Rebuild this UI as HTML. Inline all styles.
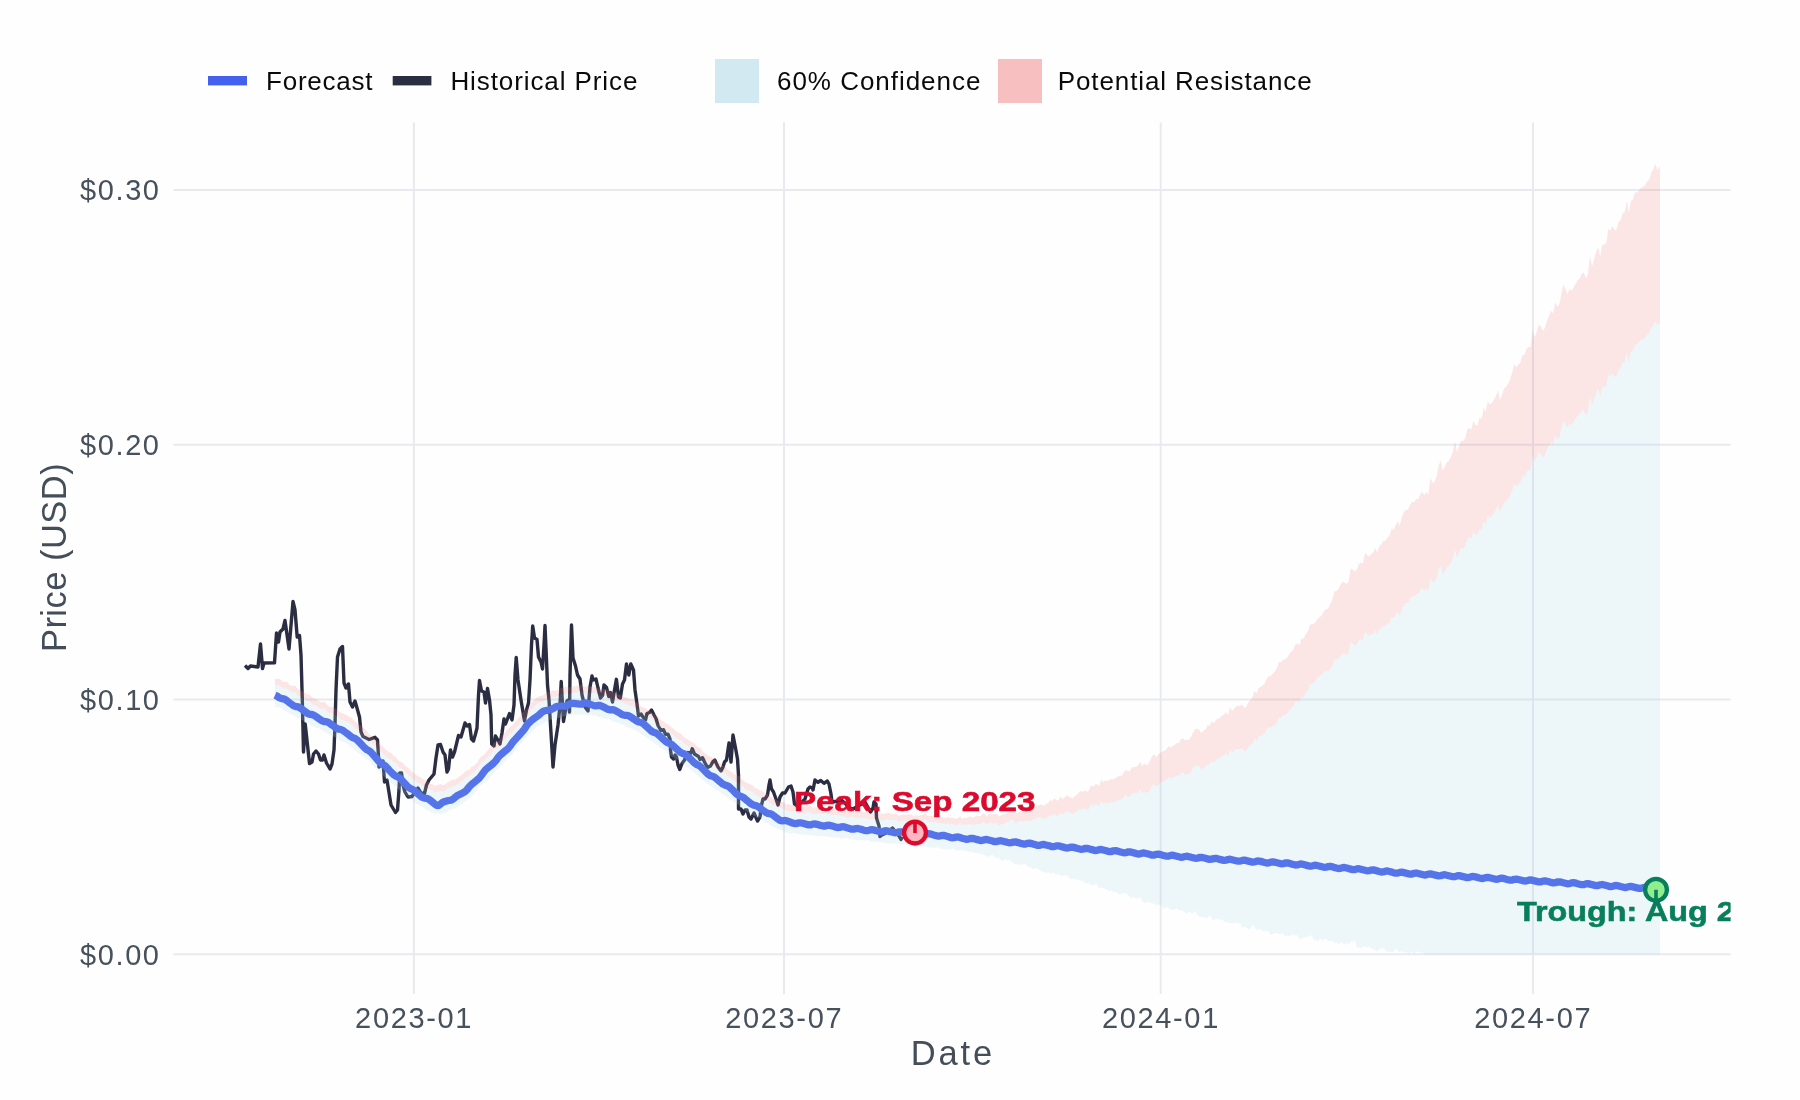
<!DOCTYPE html>
<html lang="en"><head><meta charset="utf-8"><title>Price forecast</title>
<style>
html,body{margin:0;padding:0;background:#fefefe;overflow:hidden}
svg{display:block;will-change:transform}
text{font-family:"Liberation Sans",sans-serif}
</style></head><body>
<svg width="1800" height="1100" viewBox="0 0 1800 1100">
<rect x="0" y="0" width="1800" height="1100" fill="#fefefe"/>
<g stroke="#e7eaee" stroke-width="2.0" fill="none"><line x1="173.4" x2="1730.6" y1="190.0" y2="190.0"/><line x1="173.4" x2="1730.6" y1="444.85" y2="444.85"/><line x1="173.4" x2="1730.6" y1="699.6" y2="699.6"/><line x1="173.4" x2="1730.6" y1="954.35" y2="954.35"/><line x1="413.9" x2="413.9" y1="122.5" y2="994.0"/><line x1="784.0" x2="784.0" y1="122.5" y2="994.0"/><line x1="1160.7" x2="1160.7" y1="122.5" y2="994.0"/><line x1="1533.0" x2="1533.0" y1="122.5" y2="994.0"/></g>
<defs><clipPath id="panel"><rect x="173.4" y="122.5" width="1557.1999999999998" height="871.5"/></clipPath></defs>
<g clip-path="url(#panel)">
<path d="M245.0 665.5 L248.0 668.5 L250.5 666.0 L258.0 667.0 L260.5 644.0 L262.5 668.5 L264.0 663.0 L274.5 662.8 L276.5 633.0 L278.5 642.0 L280.0 632.0 L283.0 629.0 L285.0 620.5 L289.0 649.0 L293.0 601.5 L295.0 610.0 L297.2 637.0 L299.5 635.5 L301.0 655.0 L302.3 700.0 L303.5 752.0 L305.2 724.0 L309.5 763.5 L312.0 762.0 L313.5 754.0 L316.0 751.0 L318.5 754.0 L320.5 760.0 L322.5 760.0 L324.0 755.0 L326.5 763.0 L330.0 769.0 L332.0 764.0 L334.0 750.0 L335.0 725.0 L336.0 690.0 L337.5 657.0 L340.0 649.0 L342.5 646.5 L344.0 683.0 L346.0 688.0 L348.5 684.0 L350.0 702.0 L352.5 707.0 L355.0 701.0 L357.0 708.0 L359.5 717.0 L361.0 732.0 L363.0 736.5 L369.0 739.5 L375.0 737.3 L377.5 740.0 L378.5 757.0 L379.0 767.0 L383.0 761.0 L384.5 782.0 L387.0 780.0 L391.0 805.0 L395.5 812.5 L397.5 810.0 L399.0 790.0 L399.7 773.0 L401.5 773.0 L403.0 785.0 L405.0 792.0 L408.0 797.0 L412.0 796.5 L415.0 792.0 L418.0 788.0 L421.0 793.0 L424.5 793.5 L426.5 785.0 L429.0 780.0 L434.0 774.0 L436.0 758.0 L438.0 745.0 L440.5 744.5 L443.0 752.0 L445.0 755.0 L447.0 772.0 L448.5 769.0 L450.5 750.0 L452.5 757.0 L454.5 752.0 L458.5 735.5 L461.0 737.0 L465.0 723.0 L467.0 726.0 L469.5 724.5 L471.5 739.0 L473.5 741.0 L475.5 734.0 L477.0 728.0 L478.5 695.0 L479.5 680.5 L481.5 691.0 L484.0 692.0 L485.5 703.0 L487.5 688.5 L489.5 700.0 L491.0 715.0 L491.7 744.0 L494.0 746.0 L495.5 736.0 L498.5 741.0 L500.0 744.0 L502.0 733.0 L504.0 719.0 L505.5 724.0 L509.5 713.5 L512.0 720.0 L514.0 705.0 L515.0 675.0 L516.2 657.5 L518.0 680.0 L521.0 700.0 L524.5 721.0 L526.5 710.0 L528.5 703.0 L530.0 680.0 L531.5 645.0 L532.7 626.0 L534.5 638.0 L537.0 639.5 L538.5 657.0 L541.0 662.0 L542.5 669.0 L544.0 645.0 L545.0 625.5 L546.5 660.0 L547.5 685.0 L549.0 700.0 L550.5 725.0 L552.0 750.0 L553.0 767.0 L555.0 745.0 L558.0 725.0 L560.0 705.0 L561.2 681.5 L562.5 705.0 L563.5 721.5 L565.5 710.0 L567.0 701.0 L568.5 700.0 L569.5 712.0 L570.0 675.0 L571.5 625.0 L573.0 658.0 L575.5 666.0 L577.5 675.0 L580.0 679.0 L582.0 695.0 L585.0 707.0 L588.0 711.0 L590.0 687.0 L592.0 676.0 L593.5 680.0 L596.0 679.0 L598.0 688.0 L600.5 698.0 L602.5 695.5 L604.0 685.0 L606.5 687.5 L608.8 696.5 L610.5 692.5 L612.5 702.0 L614.5 690.0 L616.4 679.3 L618.5 697.0 L620.3 698.0 L622.5 684.0 L624.5 680.0 L626.5 664.0 L628.8 675.0 L630.8 664.0 L633.5 670.0 L635.0 690.0 L637.0 704.0 L638.5 716.0 L641.0 714.0 L643.0 717.0 L645.5 720.0 L647.0 713.5 L649.5 712.5 L651.5 710.0 L654.0 715.0 L656.0 718.5 L658.0 725.5 L661.0 730.5 L663.5 729.7 L665.5 734.2 L668.0 734.2 L670.0 739.0 L670.5 750.0 L671.5 757.0 L673.5 759.0 L675.0 755.0 L676.5 757.0 L678.0 765.0 L679.8 769.5 L682.0 763.5 L684.5 760.0 L686.5 755.0 L688.0 752.5 L690.5 753.5 L692.2 748.8 L694.5 754.0 L698.5 756.5 L700.0 759.5 L702.5 757.7 L704.5 762.0 L707.5 767.5 L710.5 766.0 L713.0 761.5 L714.8 760.0 L718.0 767.0 L721.0 771.0 L723.0 767.0 L724.5 762.0 L726.5 760.0 L727.5 753.0 L729.0 743.0 L731.0 762.0 L733.0 735.0 L735.5 748.0 L737.5 759.0 L738.5 775.0 L738.5 809.0 L741.0 809.0 L743.0 814.0 L745.0 810.0 L747.0 810.0 L749.0 817.0 L751.0 819.0 L754.0 813.0 L757.5 821.0 L760.0 817.0 L761.5 805.0 L763.0 799.0 L765.0 799.0 L767.5 795.0 L769.0 785.0 L770.0 780.0 L771.5 789.0 L773.5 792.0 L776.0 799.0 L778.0 805.0 L780.0 797.0 L782.5 793.0 L785.0 793.0 L788.5 787.0 L791.0 786.0 L793.0 792.0 L794.5 804.0 L797.0 806.0 L801.0 803.0 L805.0 799.0 L808.0 789.0 L810.0 787.0 L812.3 788.0 L813.0 790.0 L815.0 780.0 L818.0 782.3 L820.7 780.5 L824.0 783.3 L827.3 781.0 L829.0 784.0 L831.0 794.0 L832.0 802.0 L842.0 800.5 L850.0 808.0 L853.0 809.0 L865.0 802.0 L870.5 812.0 L873.0 808.0 L874.0 802.0 L876.0 804.0 L876.5 818.0 L879.0 826.0 L880.0 836.5 L882.0 835.0 L886.0 833.0 L892.5 828.0 L899.0 836.0 L901.0 839.5 L902.5 837.0" fill="none" stroke="#2b2d42" stroke-width="3.4" stroke-linejoin="round" stroke-linecap="butt"/>
<path d="M275.0 684.9 L277.0 685.6 L279.1 685.0 L281.1 686.5 L283.2 688.3 L285.2 688.4 L287.3 688.4 L289.3 690.8 L291.4 692.1 L293.4 692.3 L295.5 692.5 L297.5 695.5 L299.5 696.5 L301.6 697.6 L303.6 698.6 L305.7 699.6 L307.7 701.2 L309.8 701.0 L311.8 703.7 L313.9 705.0 L315.9 705.2 L317.9 706.7 L320.0 708.0 L322.0 709.0 L324.1 708.2 L326.1 709.9 L328.2 712.3 L330.2 713.1 L332.3 713.3 L334.3 714.6 L336.4 715.7 L338.4 716.7 L340.4 719.0 L342.5 719.7 L344.5 720.7 L346.6 721.3 L348.6 722.7 L350.7 723.7 L352.7 725.3 L354.8 727.6 L356.8 729.4 L358.8 730.9 L360.9 731.5 L362.9 734.0 L365.0 735.8 L367.0 737.3 L369.1 740.4 L371.1 742.2 L373.2 744.0 L375.2 745.6 L377.3 747.9 L379.3 749.6 L381.3 751.4 L383.4 753.5 L385.4 756.0 L387.5 757.3 L389.5 759.0 L391.6 759.5 L393.6 762.4 L395.7 763.1 L397.7 766.1 L399.7 767.9 L401.8 768.6 L403.8 770.5 L405.9 772.8 L407.9 774.0 L410.0 776.4 L412.0 778.2 L414.1 779.8 L416.1 781.2 L418.2 782.6 L420.2 783.6 L422.2 785.0 L424.3 786.4 L426.3 787.4 L428.4 788.6 L430.4 790.0 L432.5 790.6 L434.5 792.2 L436.6 791.7 L438.6 791.3 L440.6 790.4 L442.7 791.5 L444.7 791.1 L446.8 789.5 L448.8 787.9 L450.9 787.0 L452.9 786.0 L455.0 785.8 L457.0 784.6 L459.1 783.2 L461.1 781.7 L463.1 780.2 L465.2 777.9 L467.2 776.7 L469.3 776.2 L471.3 773.5 L473.4 772.4 L475.4 770.7 L477.5 768.5 L479.5 764.6 L481.5 762.9 L483.6 761.6 L485.6 759.2 L487.7 757.0 L489.7 754.4 L491.8 753.0 L493.8 749.5 L495.9 748.5 L497.9 747.4 L500.0 746.0 L502.0 741.6 L504.0 740.7 L506.1 737.6 L508.1 735.8 L510.2 733.3 L512.2 732.2 L514.3 729.5 L516.3 727.2 L518.4 724.7 L520.4 722.1 L522.4 719.2 L524.5 717.1 L526.5 715.9 L528.6 713.7 L530.6 710.4 L532.7 707.9 L534.7 706.2 L536.8 703.9 L538.8 702.9 L540.9 702.3 L542.9 702.0 L544.9 700.1 L547.0 699.4 L549.0 697.9 L551.1 697.4 L553.1 696.7 L555.2 697.2 L557.2 696.1 L559.3 695.7 L561.3 693.8 L563.3 694.6 L565.4 693.4 L567.4 693.2 L569.5 693.9 L571.5 693.2 L573.6 692.9 L575.6 692.6 L577.7 691.6 L579.7 691.5 L581.8 691.1 L583.8 692.7 L585.8 693.4 L587.9 692.5 L589.9 692.9 L592.0 692.7 L594.0 693.1 L596.1 693.5 L598.1 694.6 L600.2 695.4 L602.2 695.3 L604.2 695.4 L606.3 696.5 L608.3 696.0 L610.4 697.7 L612.4 698.8 L614.5 699.4 L616.5 700.2 L618.6 701.1 L620.6 701.5 L622.6 702.6 L624.7 703.4 L626.7 704.0 L628.8 705.0 L630.8 705.9 L632.9 705.7 L634.9 707.7 L637.0 708.7 L639.0 710.2 L641.1 713.1 L643.1 713.7 L645.1 714.5 L647.2 715.6 L649.2 717.0 L651.3 718.7 L653.3 719.9 L655.4 722.0 L657.4 723.0 L659.5 725.0 L661.5 727.0 L663.5 727.6 L665.6 729.8 L667.6 730.5 L669.7 732.1 L671.7 733.8 L673.8 735.3 L675.8 737.4 L677.9 738.8 L679.9 739.4 L682.0 741.1 L684.0 743.5 L686.0 744.7 L688.1 746.0 L690.1 747.4 L692.2 749.0 L694.2 749.7 L696.3 751.8 L698.3 754.0 L700.4 754.2 L702.4 757.5 L704.4 759.5 L706.5 760.6 L708.5 762.3 L710.6 762.9 L712.6 765.0 L714.7 765.0 L716.7 768.4 L718.8 769.3 L720.8 769.8 L722.9 771.8 L724.9 772.8 L726.9 775.3 L729.0 776.8 L731.0 777.8 L733.1 779.6 L735.1 781.2 L737.2 782.1 L739.2 782.2 L741.3 785.5 L743.3 786.6 L745.3 789.0 L747.4 789.5 L749.4 790.4 L751.5 791.5 L753.5 792.4 L755.6 794.9 L757.6 794.9 L759.7 796.8 L761.7 796.9 L763.8 798.8 L765.8 799.7 L767.8 800.8 L769.9 802.8 L771.9 803.9 L774.0 804.9 L776.0 805.8 L778.1 807.3 L780.1 807.8 L782.2 808.4 L784.2 808.7 L786.2 811.1 L788.3 810.4 L790.3 811.5 L792.4 811.3 L794.4 811.1 L796.5 811.3 L798.5 812.7 L800.6 812.9 L802.6 813.1 L804.7 812.9 L806.7 812.2 L808.7 812.2 L810.8 812.3 L812.8 813.8 L814.9 813.5 L816.9 813.7 L819.0 813.6 L821.0 814.0 L823.1 813.6 L825.1 813.0 L827.1 814.5 L829.2 814.8 L831.2 814.9 L833.3 815.0 L835.3 815.0 L837.4 814.8 L839.4 815.2 L841.5 816.2 L843.5 816.1 L845.6 816.8 L847.6 817.7 L849.6 817.1 L851.7 816.8 L853.7 816.9 L855.8 817.8 L857.8 818.3 L859.9 817.6 L861.9 818.3 L864.0 818.5 L866.0 818.1 L868.0 818.6 L870.1 819.3 L872.1 819.0 L874.2 819.5 L876.2 818.8 L878.3 819.1 L880.3 820.0 L882.4 819.9 L884.4 820.6 L886.5 819.0 L888.5 819.4 L890.5 819.6 L892.6 820.1 L894.6 820.0 L896.7 819.6 L898.7 822.0 L900.8 821.1 L902.8 820.8 L904.9 820.6 L906.9 820.9 L908.9 820.6 L911.0 820.4 L913.0 821.8 L915.1 821.6 L917.1 821.5 L919.2 822.1 L921.2 821.2 L923.3 820.8 L925.3 819.1 L927.4 821.8 L929.4 821.8 L931.4 822.1 L933.5 822.2 L935.5 822.0 L937.6 822.9 L939.6 822.4 L941.7 823.6 L943.7 823.4 L945.8 823.9 L947.8 823.0 L949.8 824.0 L951.9 823.9 L953.9 824.5 L956.0 825.0 L958.0 824.9 L960.1 822.7 L962.1 825.5 L964.2 824.4 L966.2 824.8 L968.3 823.9 L970.3 823.7 L972.3 824.9 L974.4 824.5 L976.4 823.9 L978.5 823.7 L980.5 824.5 L982.6 822.0 L984.6 822.3 L986.7 825.0 L988.7 823.1 L990.7 822.3 L992.8 823.2 L994.8 823.4 L996.9 823.2 L998.9 825.6 L1001.0 824.4 L1003.0 823.7 L1005.1 823.5 L1007.1 822.1 L1009.2 820.9 L1011.2 819.2 L1013.2 819.7 L1015.3 822.8 L1017.3 822.6 L1019.4 821.0 L1021.4 821.2 L1023.5 821.8 L1025.5 820.4 L1027.6 821.3 L1029.6 820.7 L1031.6 820.3 L1033.7 819.0 L1035.7 818.5 L1037.8 817.5 L1039.8 817.5 L1041.9 817.5 L1043.9 819.3 L1046.0 817.4 L1048.0 817.4 L1050.1 815.0 L1052.1 815.8 L1054.1 813.5 L1056.2 815.4 L1058.2 816.3 L1060.3 812.4 L1062.3 814.6 L1064.4 813.6 L1066.4 811.0 L1068.5 812.1 L1070.5 812.8 L1072.5 814.2 L1074.6 812.4 L1076.6 811.5 L1078.7 809.6 L1080.7 808.4 L1082.8 809.4 L1084.8 807.7 L1086.9 809.9 L1088.9 808.8 L1091.0 804.0 L1093.0 806.0 L1095.0 804.1 L1097.1 804.3 L1099.1 806.6 L1101.2 800.7 L1103.2 803.5 L1105.3 802.6 L1107.3 803.5 L1109.4 802.6 L1111.4 802.2 L1113.4 802.6 L1115.5 801.3 L1117.5 800.3 L1119.6 799.4 L1121.6 799.7 L1123.7 797.1 L1125.7 794.8 L1127.8 796.4 L1129.8 796.7 L1131.9 793.8 L1133.9 793.2 L1135.9 793.4 L1138.0 792.2 L1140.0 788.9 L1142.1 793.1 L1144.1 791.0 L1146.2 792.7 L1148.2 792.5 L1150.3 788.5 L1152.3 785.3 L1154.3 784.2 L1156.4 786.4 L1158.4 784.4 L1160.5 782.8 L1162.5 781.4 L1164.6 781.2 L1166.6 779.4 L1168.7 777.0 L1170.7 778.6 L1172.8 777.7 L1174.8 776.9 L1176.8 775.5 L1178.9 775.9 L1180.9 772.7 L1183.0 772.5 L1185.0 774.2 L1187.1 773.9 L1189.1 774.5 L1191.2 771.4 L1193.2 768.1 L1195.2 765.4 L1197.3 765.5 L1199.3 766.2 L1201.4 769.9 L1203.4 767.8 L1205.5 767.1 L1207.5 763.9 L1209.6 764.3 L1211.6 760.6 L1213.7 762.6 L1215.7 760.0 L1217.7 758.7 L1219.8 758.3 L1221.8 756.0 L1223.9 755.8 L1225.9 753.0 L1228.0 756.2 L1230.0 749.1 L1232.1 753.1 L1234.1 750.9 L1236.1 749.0 L1238.2 749.1 L1240.2 748.9 L1242.3 747.8 L1244.3 751.4 L1246.4 749.9 L1248.4 746.7 L1250.5 745.4 L1252.5 743.4 L1254.6 738.2 L1256.6 740.9 L1258.6 736.8 L1260.7 735.7 L1262.7 734.9 L1264.8 733.4 L1266.8 729.0 L1268.9 727.0 L1270.9 727.7 L1273.0 725.8 L1275.0 724.7 L1277.1 722.2 L1279.1 716.8 L1281.1 717.7 L1283.2 715.0 L1285.2 715.1 L1287.3 713.2 L1289.3 709.9 L1291.4 707.7 L1293.4 706.1 L1295.5 701.4 L1297.5 700.7 L1299.5 702.2 L1301.6 696.6 L1303.6 697.2 L1305.7 693.1 L1307.7 690.5 L1309.8 684.6 L1311.8 683.4 L1313.9 682.8 L1315.9 680.4 L1318.0 677.1 L1320.0 675.9 L1322.0 674.2 L1324.1 671.5 L1326.1 670.5 L1328.2 671.8 L1330.2 668.5 L1332.3 666.6 L1334.3 660.0 L1336.4 660.1 L1338.4 658.9 L1340.4 655.6 L1342.5 653.0 L1344.5 653.3 L1346.6 654.7 L1348.6 652.8 L1350.7 641.8 L1352.7 643.4 L1354.8 645.4 L1356.8 644.3 L1358.9 639.7 L1360.9 639.3 L1362.9 640.4 L1365.0 631.6 L1367.0 634.0 L1369.1 635.8 L1371.1 634.5 L1373.2 633.4 L1375.2 630.0 L1377.3 634.5 L1379.3 629.2 L1381.3 628.4 L1383.4 625.5 L1385.4 626.0 L1387.5 623.5 L1389.5 622.7 L1391.6 616.3 L1393.6 618.3 L1395.7 614.3 L1397.7 611.6 L1399.8 615.4 L1401.8 609.0 L1403.8 605.0 L1405.9 602.8 L1407.9 603.0 L1410.0 598.9 L1412.0 596.3 L1414.1 596.4 L1416.1 594.0 L1418.2 593.8 L1420.2 589.8 L1422.2 587.6 L1424.3 590.9 L1426.3 588.0 L1428.4 590.9 L1430.4 577.2 L1432.5 582.1 L1434.5 582.0 L1436.6 578.3 L1438.6 569.7 L1440.7 565.4 L1442.7 574.1 L1444.7 571.4 L1446.8 567.5 L1448.8 565.8 L1450.9 562.5 L1452.9 557.9 L1455.0 549.0 L1457.0 557.6 L1459.1 552.9 L1461.1 548.0 L1463.1 548.6 L1465.2 546.2 L1467.2 538.8 L1469.3 537.2 L1471.3 538.8 L1473.4 531.4 L1475.4 534.7 L1477.5 535.2 L1479.5 528.4 L1481.6 530.1 L1483.6 521.0 L1485.6 524.4 L1487.7 515.4 L1489.7 517.7 L1491.8 516.2 L1493.8 513.2 L1495.9 509.5 L1497.9 504.5 L1500.0 512.0 L1502.0 507.8 L1504.0 502.6 L1506.1 501.5 L1508.1 498.8 L1510.2 495.6 L1512.2 490.3 L1514.3 483.3 L1516.3 486.4 L1518.4 484.0 L1520.4 482.6 L1522.5 476.3 L1524.5 476.6 L1526.5 471.5 L1528.6 470.0 L1530.6 470.0 L1532.7 455.5 L1534.7 462.3 L1536.8 457.1 L1538.8 451.5 L1540.9 453.4 L1542.9 457.4 L1544.9 455.2 L1547.0 449.7 L1549.0 445.6 L1551.1 441.9 L1553.1 444.6 L1555.2 435.7 L1557.2 439.3 L1559.3 437.6 L1561.3 429.1 L1563.4 420.4 L1565.4 424.1 L1567.4 428.0 L1569.5 423.1 L1571.5 424.7 L1573.6 421.4 L1575.6 418.5 L1577.7 415.6 L1579.7 414.3 L1581.8 410.5 L1583.8 410.0 L1585.8 414.9 L1587.9 412.1 L1589.9 396.3 L1592.0 405.0 L1594.0 399.2 L1596.1 392.6 L1598.1 388.5 L1600.2 396.1 L1602.2 386.9 L1604.3 386.3 L1606.3 386.2 L1608.3 374.3 L1610.4 376.2 L1612.4 373.2 L1614.5 376.7 L1616.5 376.2 L1618.6 369.8 L1620.6 368.3 L1622.7 362.4 L1624.7 361.6 L1626.7 351.8 L1628.8 361.9 L1630.8 351.5 L1632.9 350.2 L1634.9 344.4 L1637.0 344.0 L1639.0 342.3 L1641.1 339.7 L1643.1 339.2 L1645.2 337.5 L1647.2 334.4 L1649.2 333.3 L1651.3 327.4 L1653.3 325.2 L1655.4 320.7 L1657.4 326.0 L1659.5 323.2 L1660.0 323.0 L1660.0 954.4 L1659.5 954.4 L1657.4 954.4 L1655.4 954.4 L1653.3 954.4 L1651.3 954.4 L1649.2 954.4 L1647.2 954.4 L1645.2 954.4 L1643.1 954.4 L1641.1 954.4 L1639.0 954.4 L1637.0 954.4 L1634.9 954.4 L1632.9 954.4 L1630.8 954.4 L1628.8 954.4 L1626.7 954.4 L1624.7 954.4 L1622.7 954.4 L1620.6 954.4 L1618.6 954.4 L1616.5 954.4 L1614.5 954.4 L1612.4 954.4 L1610.4 954.4 L1608.3 954.4 L1606.3 954.4 L1604.3 954.4 L1602.2 954.4 L1600.2 954.4 L1598.1 954.4 L1596.1 954.4 L1594.0 954.4 L1592.0 954.4 L1589.9 954.4 L1587.9 954.4 L1585.8 954.4 L1583.8 954.4 L1581.8 954.4 L1579.7 954.4 L1577.7 954.4 L1575.6 954.4 L1573.6 954.4 L1571.5 954.4 L1569.5 954.4 L1567.4 954.4 L1565.4 954.4 L1563.4 954.4 L1561.3 954.4 L1559.3 954.4 L1557.2 954.4 L1555.2 954.4 L1553.1 954.4 L1551.1 954.4 L1549.0 954.4 L1547.0 954.4 L1544.9 954.4 L1542.9 954.4 L1540.9 954.4 L1538.8 954.4 L1536.8 954.4 L1534.7 954.4 L1532.7 954.4 L1530.6 954.4 L1528.6 954.4 L1526.5 954.4 L1524.5 954.4 L1522.5 954.4 L1520.4 954.4 L1518.4 954.4 L1516.3 954.4 L1514.3 954.4 L1512.2 954.4 L1510.2 954.4 L1508.1 954.4 L1506.1 954.4 L1504.0 954.4 L1502.0 954.4 L1500.0 954.4 L1497.9 954.4 L1495.9 954.4 L1493.8 954.4 L1491.8 954.4 L1489.7 954.4 L1487.7 954.4 L1485.6 954.4 L1483.6 954.4 L1481.6 954.4 L1479.5 954.4 L1477.5 954.4 L1475.4 954.4 L1473.4 954.4 L1471.3 954.4 L1469.3 954.4 L1467.2 954.4 L1465.2 954.4 L1463.1 954.4 L1461.1 954.4 L1459.1 954.4 L1457.0 954.4 L1455.0 954.4 L1452.9 954.4 L1450.9 954.4 L1448.8 954.4 L1446.8 954.4 L1444.7 954.4 L1442.7 954.4 L1440.7 954.4 L1438.6 954.4 L1436.6 954.4 L1434.5 954.4 L1432.5 954.4 L1430.4 954.4 L1428.4 954.4 L1426.3 954.4 L1424.3 954.4 L1422.2 952.1 L1420.2 952.8 L1418.2 952.1 L1416.1 951.1 L1414.1 954.4 L1412.0 951.4 L1410.0 953.5 L1407.9 953.3 L1405.9 952.0 L1403.8 952.9 L1401.8 950.6 L1399.8 953.1 L1397.7 950.2 L1395.7 948.6 L1393.6 952.0 L1391.6 952.0 L1389.5 951.6 L1387.5 951.9 L1385.4 949.9 L1383.4 948.0 L1381.3 948.2 L1379.3 949.0 L1377.3 950.9 L1375.2 950.3 L1373.2 949.0 L1371.1 948.4 L1369.1 946.3 L1367.0 947.8 L1365.0 945.9 L1362.9 947.3 L1360.9 948.3 L1358.9 947.3 L1356.8 947.4 L1354.8 939.9 L1352.7 942.4 L1350.7 940.9 L1348.6 944.5 L1346.6 942.5 L1344.5 944.9 L1342.5 943.3 L1340.4 942.3 L1338.4 944.2 L1336.4 942.6 L1334.3 942.7 L1332.3 940.9 L1330.2 941.1 L1328.2 941.2 L1326.1 938.3 L1324.1 939.4 L1322.0 940.2 L1320.0 939.1 L1318.0 941.2 L1315.9 939.9 L1313.9 940.2 L1311.8 935.6 L1309.8 935.4 L1307.7 937.6 L1305.7 937.0 L1303.6 937.8 L1301.6 938.5 L1299.5 939.3 L1297.5 934.9 L1295.5 935.6 L1293.4 934.7 L1291.4 935.1 L1289.3 936.0 L1287.3 935.4 L1285.2 936.7 L1283.2 933.0 L1281.1 934.0 L1279.1 933.8 L1277.1 933.5 L1275.0 933.1 L1273.0 933.9 L1270.9 935.0 L1268.9 932.0 L1266.8 930.4 L1264.8 931.2 L1262.7 931.2 L1260.7 929.1 L1258.6 929.4 L1256.6 929.9 L1254.6 927.0 L1252.5 924.7 L1250.5 929.0 L1248.4 928.8 L1246.4 927.5 L1244.3 926.7 L1242.3 928.0 L1240.2 923.0 L1238.2 922.9 L1236.1 922.3 L1234.1 923.4 L1232.1 923.0 L1230.0 923.3 L1228.0 922.5 L1225.9 922.1 L1223.9 921.6 L1221.8 919.0 L1219.8 920.2 L1217.7 919.0 L1215.7 918.6 L1213.7 920.5 L1211.6 918.5 L1209.6 915.2 L1207.5 917.1 L1205.5 918.3 L1203.4 916.7 L1201.4 916.7 L1199.3 916.6 L1197.3 914.7 L1195.2 910.8 L1193.2 913.3 L1191.2 913.1 L1189.1 911.3 L1187.1 913.2 L1185.0 913.3 L1183.0 910.2 L1180.9 910.3 L1178.9 910.2 L1176.8 908.3 L1174.8 909.5 L1172.8 909.5 L1170.7 909.9 L1168.7 907.7 L1166.6 906.7 L1164.6 908.5 L1162.5 907.0 L1160.5 904.1 L1158.4 904.6 L1156.4 904.9 L1154.3 903.9 L1152.3 903.0 L1150.3 902.5 L1148.2 901.7 L1146.2 902.6 L1144.1 903.2 L1142.1 900.8 L1140.0 897.3 L1138.0 898.6 L1135.9 898.4 L1133.9 896.8 L1131.9 898.4 L1129.8 896.7 L1127.8 894.5 L1125.7 893.2 L1123.7 893.1 L1121.6 893.8 L1119.6 894.5 L1117.5 892.7 L1115.5 892.1 L1113.4 892.3 L1111.4 889.8 L1109.4 891.6 L1107.3 889.5 L1105.3 889.1 L1103.2 887.8 L1101.2 887.5 L1099.1 888.5 L1097.1 884.4 L1095.0 883.7 L1093.0 885.4 L1091.0 885.1 L1088.9 883.3 L1086.9 883.3 L1084.8 883.5 L1082.8 880.7 L1080.7 880.3 L1078.7 880.2 L1076.6 879.4 L1074.6 878.9 L1072.5 879.1 L1070.5 879.0 L1068.5 877.2 L1066.4 874.9 L1064.4 874.9 L1062.3 876.3 L1060.3 875.6 L1058.2 873.7 L1056.2 874.7 L1054.1 872.2 L1052.1 873.3 L1050.1 873.3 L1048.0 872.3 L1046.0 872.8 L1043.9 872.0 L1041.9 871.6 L1039.8 870.1 L1037.8 868.6 L1035.7 868.1 L1033.7 868.7 L1031.6 868.3 L1029.6 866.9 L1027.6 866.4 L1025.5 864.1 L1023.5 863.8 L1021.4 864.9 L1019.4 864.4 L1017.3 864.5 L1015.3 864.5 L1013.2 862.7 L1011.2 861.5 L1009.2 859.6 L1007.1 860.8 L1005.1 858.5 L1003.0 861.0 L1001.0 860.2 L998.9 857.7 L996.9 857.4 L994.8 857.4 L992.8 855.1 L990.7 854.9 L988.7 856.7 L986.7 856.5 L984.6 855.3 L982.6 854.3 L980.5 853.6 L978.5 853.3 L976.4 853.3 L974.4 853.1 L972.3 851.4 L970.3 852.6 L968.3 851.2 L966.2 850.7 L964.2 850.8 L962.1 850.6 L960.1 850.3 L958.0 850.5 L956.0 850.3 L953.9 848.8 L951.9 848.5 L949.8 849.7 L947.8 849.0 L945.8 848.9 L943.7 849.0 L941.7 849.1 L939.6 847.4 L937.6 847.4 L935.5 847.4 L933.5 848.0 L931.4 847.3 L929.4 847.5 L927.4 847.3 L925.3 846.5 L923.3 845.9 L921.2 845.9 L919.2 845.7 L917.1 845.5 L915.1 845.8 L913.0 845.3 L911.0 845.0 L908.9 844.4 L906.9 844.3 L904.9 844.6 L902.8 844.4 L900.8 844.6 L898.7 844.3 L896.7 843.5 L894.6 843.3 L892.6 843.8 L890.5 843.3 L888.5 843.3 L886.5 843.4 L884.4 843.2 L882.4 842.1 L880.3 842.2 L878.3 842.0 L876.2 842.2 L874.2 841.5 L872.1 841.8 L870.1 841.4 L868.0 839.7 L866.0 840.4 L864.0 840.8 L861.9 840.0 L859.9 840.3 L857.8 840.3 L855.8 840.6 L853.7 839.6 L851.7 839.6 L849.6 839.2 L847.6 837.9 L845.6 837.8 L843.5 838.7 L841.5 838.8 L839.4 837.8 L837.4 837.3 L835.3 837.3 L833.3 837.5 L831.2 837.0 L829.2 836.9 L827.1 836.6 L825.1 836.0 L823.1 836.0 L821.0 836.2 L819.0 836.4 L816.9 835.8 L814.9 835.4 L812.8 835.6 L810.8 835.2 L808.7 835.0 L806.7 835.0 L804.7 834.5 L802.6 834.9 L800.6 834.3 L798.5 834.2 L796.5 834.1 L794.4 832.5 L792.4 833.5 L790.3 833.7 L788.3 833.0 L786.2 832.4 L784.2 831.9 L782.2 830.0 L780.1 829.8 L778.1 829.2 L776.0 827.8 L774.0 826.9 L771.9 825.9 L769.9 824.6 L767.8 823.1 L765.8 822.7 L763.8 821.1 L761.7 819.7 L759.7 817.4 L757.6 817.9 L755.6 816.8 L753.5 815.3 L751.5 813.9 L749.4 812.6 L747.4 812.0 L745.3 810.5 L743.3 809.4 L741.3 807.7 L739.2 805.8 L737.2 804.1 L735.1 803.1 L733.1 801.3 L731.0 800.1 L729.0 798.6 L726.9 797.1 L724.9 795.2 L722.9 794.2 L720.8 792.5 L718.8 790.9 L716.7 790.3 L714.7 789.0 L712.6 787.6 L710.6 785.7 L708.5 784.5 L706.5 783.1 L704.4 781.5 L702.4 779.8 L700.4 778.0 L698.3 776.5 L696.3 774.0 L694.2 772.5 L692.2 771.1 L690.1 769.6 L688.1 767.5 L686.0 766.5 L684.0 765.1 L682.0 763.1 L679.9 761.6 L677.9 759.3 L675.8 759.1 L673.8 757.6 L671.7 756.4 L669.7 755.0 L667.6 753.1 L665.6 751.0 L663.5 749.8 L661.5 748.1 L659.5 747.2 L657.4 745.3 L655.4 744.8 L653.3 742.3 L651.3 740.7 L649.2 738.6 L647.2 738.4 L645.1 736.7 L643.1 735.1 L641.1 734.5 L639.0 731.7 L637.0 731.0 L634.9 730.3 L632.9 729.3 L630.8 728.2 L628.8 727.4 L626.7 726.9 L624.7 725.2 L622.6 724.3 L620.6 723.4 L618.6 723.2 L616.5 722.5 L614.5 721.8 L612.4 721.1 L610.4 719.6 L608.3 719.0 L606.3 719.0 L604.2 718.4 L602.2 717.7 L600.2 717.1 L598.1 716.9 L596.1 715.4 L594.0 715.5 L592.0 715.3 L589.9 715.3 L587.9 715.2 L585.8 715.1 L583.8 714.8 L581.8 714.4 L579.7 714.6 L577.7 714.7 L575.6 714.7 L573.6 714.6 L571.5 715.3 L569.5 715.2 L567.4 715.4 L565.4 716.3 L563.3 716.6 L561.3 716.4 L559.3 717.7 L557.2 718.4 L555.2 718.7 L553.1 718.7 L551.1 719.5 L549.0 719.8 L547.0 721.3 L544.9 722.2 L542.9 723.4 L540.9 724.5 L538.8 725.6 L536.8 726.5 L534.7 728.7 L532.7 730.7 L530.6 732.4 L528.6 734.6 L526.5 737.3 L524.5 739.0 L522.4 741.9 L520.4 744.1 L518.4 745.8 L516.3 749.4 L514.3 751.6 L512.2 754.4 L510.2 755.9 L508.1 757.7 L506.1 759.8 L504.0 762.1 L502.0 764.4 L500.0 767.0 L497.9 768.9 L495.9 770.8 L493.8 773.1 L491.8 774.9 L489.7 777.4 L487.7 779.6 L485.6 781.5 L483.6 783.0 L481.5 785.0 L479.5 786.3 L477.5 789.6 L475.4 792.3 L473.4 794.2 L471.3 796.2 L469.3 798.5 L467.2 799.7 L465.2 801.0 L463.1 802.9 L461.1 804.6 L459.1 805.5 L457.0 806.8 L455.0 808.3 L452.9 808.9 L450.9 810.1 L448.8 809.9 L446.8 812.2 L444.7 813.0 L442.7 813.6 L440.6 814.4 L438.6 813.3 L436.6 813.7 L434.5 813.8 L432.5 813.0 L430.4 811.8 L428.4 810.5 L426.3 809.9 L424.3 808.0 L422.2 806.7 L420.2 805.6 L418.2 804.4 L416.1 803.7 L414.1 801.9 L412.0 800.7 L410.0 798.0 L407.9 796.5 L405.9 794.8 L403.8 793.4 L401.8 791.4 L399.7 790.4 L397.7 789.0 L395.7 786.4 L393.6 784.7 L391.6 782.8 L389.5 781.4 L387.5 779.9 L385.4 777.9 L383.4 776.1 L381.3 773.2 L379.3 771.9 L377.3 770.2 L375.2 768.2 L373.2 766.0 L371.1 764.0 L369.1 760.8 L367.0 759.1 L365.0 757.0 L362.9 756.5 L360.9 754.9 L358.8 753.2 L356.8 751.6 L354.8 749.9 L352.7 747.9 L350.7 746.7 L348.6 744.7 L346.6 743.5 L344.5 742.5 L342.5 741.5 L340.4 741.0 L338.4 738.9 L336.4 737.9 L334.3 736.8 L332.3 736.2 L330.2 735.2 L328.2 734.0 L326.1 732.5 L324.1 731.0 L322.0 730.5 L320.0 729.1 L317.9 728.0 L315.9 727.9 L313.9 726.6 L311.8 726.2 L309.8 724.1 L307.7 722.9 L305.7 721.7 L303.6 720.7 L301.6 719.8 L299.5 718.3 L297.5 718.1 L295.5 716.4 L293.4 715.1 L291.4 714.2 L289.3 712.9 L287.3 712.1 L285.2 710.9 L283.2 709.8 L281.1 707.8 L279.1 707.6 L277.0 707.1 L275.0 707.4 Z" fill="#add8e6" fill-opacity="0.21" stroke="none"/>
<path d="M275.0 678.5 L277.0 679.3 L279.1 678.5 L281.1 680.1 L283.2 681.9 L285.2 682.0 L287.3 681.8 L289.3 684.4 L291.4 685.7 L293.4 685.8 L295.5 685.9 L297.5 689.1 L299.5 690.1 L301.6 691.2 L303.6 692.2 L305.7 693.2 L307.7 694.8 L309.8 694.5 L311.8 697.3 L313.9 698.6 L315.9 698.8 L317.9 700.3 L320.0 701.7 L322.0 702.6 L324.1 701.7 L326.1 703.5 L328.2 706.0 L330.2 706.7 L332.3 706.9 L334.3 708.1 L336.4 709.2 L338.4 710.2 L340.4 712.6 L342.5 713.3 L344.5 714.3 L346.6 714.9 L348.6 716.3 L350.7 717.2 L352.7 718.9 L354.8 721.2 L356.8 723.0 L358.8 724.5 L360.9 725.0 L362.9 727.6 L365.0 729.3 L367.0 730.9 L369.1 734.1 L371.1 735.8 L373.2 737.6 L375.2 739.2 L377.3 741.5 L379.3 743.2 L381.3 745.0 L383.4 747.1 L385.4 749.6 L387.5 750.9 L389.5 752.6 L391.6 753.0 L393.6 756.0 L395.7 756.7 L397.7 759.7 L399.7 761.6 L401.8 762.2 L403.8 764.0 L405.9 766.4 L407.9 767.5 L410.0 770.0 L412.0 771.8 L414.1 773.4 L416.1 774.8 L418.2 776.3 L420.2 777.2 L422.2 778.6 L424.3 780.0 L426.3 781.0 L428.4 782.3 L430.4 783.7 L432.5 784.2 L434.5 785.8 L436.6 785.2 L438.6 784.8 L440.6 783.9 L442.7 785.1 L444.7 784.7 L446.8 783.1 L448.8 781.5 L450.9 780.5 L452.9 779.5 L455.0 779.4 L457.0 778.2 L459.1 776.8 L461.1 775.2 L463.1 773.7 L465.2 771.4 L467.2 770.3 L469.3 769.8 L471.3 767.1 L473.4 766.0 L475.4 764.4 L477.5 762.2 L479.5 758.2 L481.5 756.5 L483.6 755.2 L485.6 752.8 L487.7 750.6 L489.7 748.0 L491.8 746.6 L493.8 743.0 L495.9 742.1 L497.9 741.1 L500.0 739.7 L502.0 735.1 L504.0 734.3 L506.1 731.2 L508.1 729.3 L510.2 726.9 L512.2 725.8 L514.3 723.1 L516.3 720.8 L518.4 718.3 L520.4 715.7 L522.4 712.8 L524.5 710.7 L526.5 709.5 L528.6 707.4 L530.6 704.0 L532.7 701.5 L534.7 699.8 L536.8 697.5 L538.8 696.4 L540.9 695.9 L542.9 695.6 L544.9 693.7 L547.0 693.0 L549.0 691.5 L551.1 691.0 L553.1 690.3 L555.2 690.9 L557.2 689.7 L559.3 689.3 L561.3 687.4 L563.3 688.3 L565.4 686.9 L567.4 686.7 L569.5 687.5 L571.5 686.8 L573.6 686.5 L575.6 686.2 L577.7 685.2 L579.7 685.0 L581.8 684.6 L583.8 686.4 L585.8 687.1 L587.9 686.1 L589.9 686.5 L592.0 686.3 L594.0 686.7 L596.1 687.1 L598.1 688.2 L600.2 689.1 L602.2 688.9 L604.2 689.0 L606.3 690.1 L608.3 689.5 L610.4 691.2 L612.4 692.4 L614.5 693.0 L616.5 693.8 L618.6 694.7 L620.6 695.0 L622.6 696.2 L624.7 697.0 L626.7 697.6 L628.8 698.6 L630.8 699.5 L632.9 699.2 L634.9 701.2 L637.0 702.3 L639.0 703.8 L641.1 706.8 L643.1 707.3 L645.1 708.1 L647.2 709.2 L649.2 710.6 L651.3 712.3 L653.3 713.4 L655.4 715.6 L657.4 716.6 L659.5 718.6 L661.5 720.7 L663.5 721.2 L665.6 723.4 L667.6 724.1 L669.7 725.7 L671.7 727.4 L673.8 728.9 L675.8 731.1 L677.9 732.4 L679.9 733.0 L682.0 734.7 L684.0 737.1 L686.0 738.4 L688.1 739.6 L690.1 741.0 L692.2 742.6 L694.2 743.2 L696.3 745.4 L698.3 747.6 L700.4 747.7 L702.4 751.1 L704.4 753.1 L706.5 754.2 L708.5 755.9 L710.6 756.4 L712.6 758.6 L714.7 758.5 L716.7 762.0 L718.8 762.9 L720.8 763.3 L722.9 765.4 L724.9 766.3 L726.9 768.9 L729.0 770.5 L731.0 771.4 L733.1 773.2 L735.1 774.8 L737.2 775.7 L739.2 775.7 L741.3 779.2 L743.3 780.2 L745.3 782.6 L747.4 783.1 L749.4 784.0 L751.5 785.0 L753.5 785.9 L755.6 788.6 L757.6 788.5 L759.7 790.4 L761.7 790.4 L763.8 792.4 L765.8 793.3 L767.8 794.3 L769.9 796.5 L771.9 797.5 L774.0 798.5 L776.0 799.4 L778.1 800.9 L780.1 801.4 L782.2 802.0 L784.2 802.2 L786.2 804.7 L788.3 804.0 L790.3 805.1 L792.4 804.9 L794.4 804.7 L796.5 804.9 L798.5 806.4 L800.6 806.5 L802.6 806.8 L804.7 806.5 L806.7 805.8 L808.7 805.7 L810.8 805.9 L812.8 807.4 L814.9 807.2 L816.9 807.3 L819.0 807.2 L821.0 807.6 L823.1 807.2 L825.1 806.5 L827.1 808.1 L829.2 808.4 L831.2 808.5 L833.3 808.6 L835.3 808.6 L837.4 808.4 L839.4 808.8 L841.5 809.8 L843.5 809.7 L845.6 810.5 L847.6 811.3 L849.6 810.7 L851.7 810.4 L853.7 810.5 L855.8 811.4 L857.8 811.9 L859.9 811.2 L861.9 812.0 L864.0 812.2 L866.0 811.7 L868.0 812.2 L870.1 812.9 L872.1 812.6 L874.2 813.2 L876.2 812.4 L878.3 812.7 L880.3 813.7 L882.4 813.6 L884.4 814.3 L886.5 812.7 L888.5 813.1 L890.5 813.3 L892.6 813.9 L894.6 813.8 L896.7 813.4 L898.7 815.9 L900.8 815.0 L902.8 814.6 L904.9 814.4 L906.9 814.8 L908.9 814.4 L911.0 814.3 L913.0 815.7 L915.1 815.5 L917.1 815.4 L919.2 816.1 L921.2 815.1 L923.3 814.7 L925.3 813.0 L927.4 815.8 L929.4 815.8 L931.4 816.0 L933.5 816.1 L935.5 816.0 L937.6 816.9 L939.6 816.3 L941.7 817.6 L943.7 817.4 L945.8 817.9 L947.8 816.9 L949.8 817.9 L951.9 817.8 L953.9 818.3 L956.0 818.7 L958.0 818.6 L960.1 816.1 L962.1 818.9 L964.2 817.7 L966.2 818.0 L968.3 817.0 L970.3 816.6 L972.3 817.6 L974.4 817.0 L976.4 816.3 L978.5 815.8 L980.5 816.4 L982.6 813.6 L984.6 813.7 L986.7 816.4 L988.7 814.3 L990.7 813.3 L992.8 814.2 L994.8 814.3 L996.9 814.0 L998.9 816.5 L1001.0 815.2 L1003.0 814.4 L1005.1 814.2 L1007.1 812.6 L1009.2 811.4 L1011.2 809.6 L1013.2 810.1 L1015.3 813.3 L1017.3 813.1 L1019.4 811.5 L1021.4 811.7 L1023.5 812.4 L1025.5 810.8 L1027.6 811.5 L1029.6 810.7 L1031.6 809.9 L1033.7 808.0 L1035.7 807.0 L1037.8 805.4 L1039.8 804.9 L1041.9 804.5 L1043.9 806.1 L1046.0 803.7 L1048.0 803.5 L1050.1 800.6 L1052.1 801.1 L1054.1 798.3 L1056.2 800.1 L1058.2 800.8 L1060.3 796.6 L1062.3 798.9 L1064.4 798.0 L1066.4 795.4 L1068.5 796.5 L1070.5 797.2 L1072.5 798.4 L1074.6 796.3 L1076.6 795.0 L1078.7 792.7 L1080.7 791.0 L1082.8 791.9 L1084.8 789.9 L1086.9 792.0 L1088.9 790.6 L1091.0 785.2 L1093.0 787.0 L1095.0 784.6 L1097.1 784.3 L1099.1 786.3 L1101.2 779.4 L1103.2 781.9 L1105.3 780.4 L1107.3 780.9 L1109.4 779.7 L1111.4 779.0 L1113.4 779.4 L1115.5 778.0 L1117.5 776.8 L1119.6 775.7 L1121.6 775.9 L1123.7 772.7 L1125.7 769.9 L1127.8 771.2 L1129.8 771.2 L1131.9 767.8 L1133.9 767.0 L1135.9 767.1 L1138.0 765.6 L1140.0 761.7 L1142.1 766.1 L1144.1 763.4 L1146.2 764.9 L1148.2 764.4 L1150.3 759.7 L1152.3 755.9 L1154.3 754.6 L1156.4 756.9 L1158.4 754.6 L1160.5 752.8 L1162.5 751.3 L1164.6 751.1 L1166.6 749.0 L1168.7 746.1 L1170.7 747.5 L1172.8 746.1 L1174.8 744.9 L1176.8 743.0 L1178.9 743.0 L1180.9 739.0 L1183.0 738.6 L1185.0 740.3 L1187.1 739.6 L1189.1 740.0 L1191.2 736.3 L1193.2 732.4 L1195.2 729.1 L1197.3 729.0 L1199.3 729.5 L1201.4 733.3 L1203.4 730.6 L1205.5 729.5 L1207.5 725.6 L1209.6 725.7 L1211.6 721.3 L1213.7 723.4 L1215.7 720.3 L1217.7 718.7 L1219.8 718.3 L1221.8 715.6 L1223.9 715.1 L1225.9 711.9 L1228.0 715.3 L1230.0 707.1 L1232.1 711.3 L1234.1 708.7 L1236.1 706.3 L1238.2 706.1 L1240.2 705.8 L1242.3 704.4 L1244.3 708.3 L1246.4 706.2 L1248.4 702.2 L1250.5 700.1 L1252.5 697.3 L1254.6 690.8 L1256.6 693.4 L1258.6 688.3 L1260.7 686.8 L1262.7 685.6 L1264.8 683.7 L1266.8 678.5 L1268.9 675.7 L1270.9 676.0 L1273.0 673.3 L1275.0 671.4 L1277.1 668.1 L1279.1 661.6 L1281.1 662.5 L1283.2 659.3 L1285.2 659.5 L1287.3 657.5 L1289.3 653.9 L1291.4 651.5 L1293.4 649.6 L1295.5 644.2 L1297.5 643.4 L1299.5 644.9 L1301.6 638.2 L1303.6 638.7 L1305.7 634.2 L1307.7 631.4 L1309.8 625.1 L1311.8 624.1 L1313.9 623.9 L1315.9 621.7 L1318.0 618.2 L1320.0 617.0 L1322.0 614.9 L1324.1 611.0 L1326.1 608.9 L1328.2 609.1 L1330.2 603.9 L1332.3 600.3 L1334.3 591.5 L1336.4 590.9 L1338.4 589.1 L1340.4 585.0 L1342.5 582.0 L1344.5 582.5 L1346.6 584.0 L1348.6 581.5 L1350.7 568.3 L1352.7 569.6 L1354.8 571.4 L1356.8 569.6 L1358.9 563.7 L1360.9 562.8 L1362.9 563.5 L1365.0 552.7 L1367.0 554.9 L1369.1 556.5 L1371.1 554.3 L1373.2 552.4 L1375.2 547.9 L1377.3 552.6 L1379.3 545.9 L1381.3 544.6 L1383.4 540.7 L1385.4 540.9 L1387.5 537.6 L1389.5 536.1 L1391.6 528.2 L1393.6 530.0 L1395.7 524.9 L1397.7 521.3 L1399.8 525.4 L1401.8 517.6 L1403.8 512.5 L1405.9 509.8 L1407.9 509.9 L1410.0 505.0 L1412.0 501.9 L1414.1 502.1 L1416.1 499.3 L1418.2 499.2 L1420.2 494.5 L1422.2 491.9 L1424.3 495.6 L1426.3 491.9 L1428.4 494.8 L1430.4 477.9 L1432.5 483.1 L1434.5 482.1 L1436.6 476.8 L1438.6 465.9 L1440.7 460.2 L1442.7 470.4 L1444.7 467.0 L1446.8 462.5 L1448.8 460.7 L1450.9 457.0 L1452.9 451.9 L1455.0 441.4 L1457.0 451.9 L1459.1 446.4 L1461.1 440.5 L1463.1 441.2 L1465.2 438.3 L1467.2 429.6 L1469.3 427.8 L1471.3 429.8 L1473.4 421.0 L1475.4 425.1 L1477.5 425.6 L1479.5 417.4 L1481.6 419.2 L1483.6 408.1 L1485.6 412.1 L1487.7 401.4 L1489.7 404.5 L1491.8 403.2 L1493.8 400.1 L1495.9 396.2 L1497.9 390.6 L1500.0 399.9 L1502.0 394.9 L1504.0 388.6 L1506.1 387.0 L1508.1 383.5 L1510.2 379.3 L1512.2 372.7 L1514.3 364.1 L1516.3 367.5 L1518.4 364.4 L1520.4 362.6 L1522.5 354.9 L1524.5 355.1 L1526.5 349.0 L1528.6 347.0 L1530.6 346.9 L1532.7 329.5 L1534.7 337.6 L1536.8 331.4 L1538.8 324.5 L1540.9 326.6 L1542.9 331.1 L1544.9 328.1 L1547.0 321.1 L1549.0 315.7 L1551.1 310.7 L1553.1 313.4 L1555.2 302.5 L1557.2 306.7 L1559.3 304.6 L1561.3 294.5 L1563.4 284.4 L1565.4 289.1 L1567.4 294.2 L1569.5 288.8 L1571.5 291.0 L1573.6 287.3 L1575.6 283.9 L1577.7 280.3 L1579.7 278.6 L1581.8 273.6 L1583.8 272.8 L1585.8 278.3 L1587.9 274.9 L1589.9 256.0 L1592.0 266.5 L1594.0 259.8 L1596.1 252.2 L1598.1 247.3 L1600.2 256.5 L1602.2 245.2 L1604.3 244.2 L1606.3 243.5 L1608.3 228.7 L1610.4 230.4 L1612.4 226.3 L1614.5 230.2 L1616.5 229.4 L1618.6 221.7 L1620.6 219.9 L1622.7 213.1 L1624.7 212.4 L1626.7 200.8 L1628.8 213.1 L1630.8 200.9 L1632.9 199.6 L1634.9 192.6 L1637.0 192.4 L1639.0 190.5 L1641.1 187.5 L1643.1 186.9 L1645.2 184.9 L1647.2 181.2 L1649.2 179.7 L1651.3 172.5 L1653.3 169.6 L1655.4 164.0 L1657.4 170.3 L1659.5 166.8 L1660.0 166.5 L1660.0 323.0 L1659.5 323.2 L1657.4 326.0 L1655.4 320.7 L1653.3 325.2 L1651.3 327.4 L1649.2 333.3 L1647.2 334.4 L1645.2 337.5 L1643.1 339.2 L1641.1 339.7 L1639.0 342.3 L1637.0 344.0 L1634.9 344.4 L1632.9 350.2 L1630.8 351.5 L1628.8 361.9 L1626.7 351.8 L1624.7 361.6 L1622.7 362.4 L1620.6 368.3 L1618.6 369.8 L1616.5 376.2 L1614.5 376.7 L1612.4 373.2 L1610.4 376.2 L1608.3 374.3 L1606.3 386.2 L1604.3 386.3 L1602.2 386.9 L1600.2 396.1 L1598.1 388.5 L1596.1 392.6 L1594.0 399.2 L1592.0 405.0 L1589.9 396.3 L1587.9 412.1 L1585.8 414.9 L1583.8 410.0 L1581.8 410.5 L1579.7 414.3 L1577.7 415.6 L1575.6 418.5 L1573.6 421.4 L1571.5 424.7 L1569.5 423.1 L1567.4 428.0 L1565.4 424.1 L1563.4 420.4 L1561.3 429.1 L1559.3 437.6 L1557.2 439.3 L1555.2 435.7 L1553.1 444.6 L1551.1 441.9 L1549.0 445.6 L1547.0 449.7 L1544.9 455.2 L1542.9 457.4 L1540.9 453.4 L1538.8 451.5 L1536.8 457.1 L1534.7 462.3 L1532.7 455.5 L1530.6 470.0 L1528.6 470.0 L1526.5 471.5 L1524.5 476.6 L1522.5 476.3 L1520.4 482.6 L1518.4 484.0 L1516.3 486.4 L1514.3 483.3 L1512.2 490.3 L1510.2 495.6 L1508.1 498.8 L1506.1 501.5 L1504.0 502.6 L1502.0 507.8 L1500.0 512.0 L1497.9 504.5 L1495.9 509.5 L1493.8 513.2 L1491.8 516.2 L1489.7 517.7 L1487.7 515.4 L1485.6 524.4 L1483.6 521.0 L1481.6 530.1 L1479.5 528.4 L1477.5 535.2 L1475.4 534.7 L1473.4 531.4 L1471.3 538.8 L1469.3 537.2 L1467.2 538.8 L1465.2 546.2 L1463.1 548.6 L1461.1 548.0 L1459.1 552.9 L1457.0 557.6 L1455.0 549.0 L1452.9 557.9 L1450.9 562.5 L1448.8 565.8 L1446.8 567.5 L1444.7 571.4 L1442.7 574.1 L1440.7 565.4 L1438.6 569.7 L1436.6 578.3 L1434.5 582.0 L1432.5 582.1 L1430.4 577.2 L1428.4 590.9 L1426.3 588.0 L1424.3 590.9 L1422.2 587.6 L1420.2 589.8 L1418.2 593.8 L1416.1 594.0 L1414.1 596.4 L1412.0 596.3 L1410.0 598.9 L1407.9 603.0 L1405.9 602.8 L1403.8 605.0 L1401.8 609.0 L1399.8 615.4 L1397.7 611.6 L1395.7 614.3 L1393.6 618.3 L1391.6 616.3 L1389.5 622.7 L1387.5 623.5 L1385.4 626.0 L1383.4 625.5 L1381.3 628.4 L1379.3 629.2 L1377.3 634.5 L1375.2 630.0 L1373.2 633.4 L1371.1 634.5 L1369.1 635.8 L1367.0 634.0 L1365.0 631.6 L1362.9 640.4 L1360.9 639.3 L1358.9 639.7 L1356.8 644.3 L1354.8 645.4 L1352.7 643.4 L1350.7 641.8 L1348.6 652.8 L1346.6 654.7 L1344.5 653.3 L1342.5 653.0 L1340.4 655.6 L1338.4 658.9 L1336.4 660.1 L1334.3 660.0 L1332.3 666.6 L1330.2 668.5 L1328.2 671.8 L1326.1 670.5 L1324.1 671.5 L1322.0 674.2 L1320.0 675.9 L1318.0 677.1 L1315.9 680.4 L1313.9 682.8 L1311.8 683.4 L1309.8 684.6 L1307.7 690.5 L1305.7 693.1 L1303.6 697.2 L1301.6 696.6 L1299.5 702.2 L1297.5 700.7 L1295.5 701.4 L1293.4 706.1 L1291.4 707.7 L1289.3 709.9 L1287.3 713.2 L1285.2 715.1 L1283.2 715.0 L1281.1 717.7 L1279.1 716.8 L1277.1 722.2 L1275.0 724.7 L1273.0 725.8 L1270.9 727.7 L1268.9 727.0 L1266.8 729.0 L1264.8 733.4 L1262.7 734.9 L1260.7 735.7 L1258.6 736.8 L1256.6 740.9 L1254.6 738.2 L1252.5 743.4 L1250.5 745.4 L1248.4 746.7 L1246.4 749.9 L1244.3 751.4 L1242.3 747.8 L1240.2 748.9 L1238.2 749.1 L1236.1 749.0 L1234.1 750.9 L1232.1 753.1 L1230.0 749.1 L1228.0 756.2 L1225.9 753.0 L1223.9 755.8 L1221.8 756.0 L1219.8 758.3 L1217.7 758.7 L1215.7 760.0 L1213.7 762.6 L1211.6 760.6 L1209.6 764.3 L1207.5 763.9 L1205.5 767.1 L1203.4 767.8 L1201.4 769.9 L1199.3 766.2 L1197.3 765.5 L1195.2 765.4 L1193.2 768.1 L1191.2 771.4 L1189.1 774.5 L1187.1 773.9 L1185.0 774.2 L1183.0 772.5 L1180.9 772.7 L1178.9 775.9 L1176.8 775.5 L1174.8 776.9 L1172.8 777.7 L1170.7 778.6 L1168.7 777.0 L1166.6 779.4 L1164.6 781.2 L1162.5 781.4 L1160.5 782.8 L1158.4 784.4 L1156.4 786.4 L1154.3 784.2 L1152.3 785.3 L1150.3 788.5 L1148.2 792.5 L1146.2 792.7 L1144.1 791.0 L1142.1 793.1 L1140.0 788.9 L1138.0 792.2 L1135.9 793.4 L1133.9 793.2 L1131.9 793.8 L1129.8 796.7 L1127.8 796.4 L1125.7 794.8 L1123.7 797.1 L1121.6 799.7 L1119.6 799.4 L1117.5 800.3 L1115.5 801.3 L1113.4 802.6 L1111.4 802.2 L1109.4 802.6 L1107.3 803.5 L1105.3 802.6 L1103.2 803.5 L1101.2 800.7 L1099.1 806.6 L1097.1 804.3 L1095.0 804.1 L1093.0 806.0 L1091.0 804.0 L1088.9 808.8 L1086.9 809.9 L1084.8 807.7 L1082.8 809.4 L1080.7 808.4 L1078.7 809.6 L1076.6 811.5 L1074.6 812.4 L1072.5 814.2 L1070.5 812.8 L1068.5 812.1 L1066.4 811.0 L1064.4 813.6 L1062.3 814.6 L1060.3 812.4 L1058.2 816.3 L1056.2 815.4 L1054.1 813.5 L1052.1 815.8 L1050.1 815.0 L1048.0 817.4 L1046.0 817.4 L1043.9 819.3 L1041.9 817.5 L1039.8 817.5 L1037.8 817.5 L1035.7 818.5 L1033.7 819.0 L1031.6 820.3 L1029.6 820.7 L1027.6 821.3 L1025.5 820.4 L1023.5 821.8 L1021.4 821.2 L1019.4 821.0 L1017.3 822.6 L1015.3 822.8 L1013.2 819.7 L1011.2 819.2 L1009.2 820.9 L1007.1 822.1 L1005.1 823.5 L1003.0 823.7 L1001.0 824.4 L998.9 825.6 L996.9 823.2 L994.8 823.4 L992.8 823.2 L990.7 822.3 L988.7 823.1 L986.7 825.0 L984.6 822.3 L982.6 822.0 L980.5 824.5 L978.5 823.7 L976.4 823.9 L974.4 824.5 L972.3 824.9 L970.3 823.7 L968.3 823.9 L966.2 824.8 L964.2 824.4 L962.1 825.5 L960.1 822.7 L958.0 824.9 L956.0 825.0 L953.9 824.5 L951.9 823.9 L949.8 824.0 L947.8 823.0 L945.8 823.9 L943.7 823.4 L941.7 823.6 L939.6 822.4 L937.6 822.9 L935.5 822.0 L933.5 822.2 L931.4 822.1 L929.4 821.8 L927.4 821.8 L925.3 819.1 L923.3 820.8 L921.2 821.2 L919.2 822.1 L917.1 821.5 L915.1 821.6 L913.0 821.8 L911.0 820.4 L908.9 820.6 L906.9 820.9 L904.9 820.6 L902.8 820.8 L900.8 821.1 L898.7 822.0 L896.7 819.6 L894.6 820.0 L892.6 820.1 L890.5 819.6 L888.5 819.4 L886.5 819.0 L884.4 820.6 L882.4 819.9 L880.3 820.0 L878.3 819.1 L876.2 818.8 L874.2 819.5 L872.1 819.0 L870.1 819.3 L868.0 818.6 L866.0 818.1 L864.0 818.5 L861.9 818.3 L859.9 817.6 L857.8 818.3 L855.8 817.8 L853.7 816.9 L851.7 816.8 L849.6 817.1 L847.6 817.7 L845.6 816.8 L843.5 816.1 L841.5 816.2 L839.4 815.2 L837.4 814.8 L835.3 815.0 L833.3 815.0 L831.2 814.9 L829.2 814.8 L827.1 814.5 L825.1 813.0 L823.1 813.6 L821.0 814.0 L819.0 813.6 L816.9 813.7 L814.9 813.5 L812.8 813.8 L810.8 812.3 L808.7 812.2 L806.7 812.2 L804.7 812.9 L802.6 813.1 L800.6 812.9 L798.5 812.7 L796.5 811.3 L794.4 811.1 L792.4 811.3 L790.3 811.5 L788.3 810.4 L786.2 811.1 L784.2 808.7 L782.2 808.4 L780.1 807.8 L778.1 807.3 L776.0 805.8 L774.0 804.9 L771.9 803.9 L769.9 802.8 L767.8 800.8 L765.8 799.7 L763.8 798.8 L761.7 796.9 L759.7 796.8 L757.6 794.9 L755.6 794.9 L753.5 792.4 L751.5 791.5 L749.4 790.4 L747.4 789.5 L745.3 789.0 L743.3 786.6 L741.3 785.5 L739.2 782.2 L737.2 782.1 L735.1 781.2 L733.1 779.6 L731.0 777.8 L729.0 776.8 L726.9 775.3 L724.9 772.8 L722.9 771.8 L720.8 769.8 L718.8 769.3 L716.7 768.4 L714.7 765.0 L712.6 765.0 L710.6 762.9 L708.5 762.3 L706.5 760.6 L704.4 759.5 L702.4 757.5 L700.4 754.2 L698.3 754.0 L696.3 751.8 L694.2 749.7 L692.2 749.0 L690.1 747.4 L688.1 746.0 L686.0 744.7 L684.0 743.5 L682.0 741.1 L679.9 739.4 L677.9 738.8 L675.8 737.4 L673.8 735.3 L671.7 733.8 L669.7 732.1 L667.6 730.5 L665.6 729.8 L663.5 727.6 L661.5 727.0 L659.5 725.0 L657.4 723.0 L655.4 722.0 L653.3 719.9 L651.3 718.7 L649.2 717.0 L647.2 715.6 L645.1 714.5 L643.1 713.7 L641.1 713.1 L639.0 710.2 L637.0 708.7 L634.9 707.7 L632.9 705.7 L630.8 705.9 L628.8 705.0 L626.7 704.0 L624.7 703.4 L622.6 702.6 L620.6 701.5 L618.6 701.1 L616.5 700.2 L614.5 699.4 L612.4 698.8 L610.4 697.7 L608.3 696.0 L606.3 696.5 L604.2 695.4 L602.2 695.3 L600.2 695.4 L598.1 694.6 L596.1 693.5 L594.0 693.1 L592.0 692.7 L589.9 692.9 L587.9 692.5 L585.8 693.4 L583.8 692.7 L581.8 691.1 L579.7 691.5 L577.7 691.6 L575.6 692.6 L573.6 692.9 L571.5 693.2 L569.5 693.9 L567.4 693.2 L565.4 693.4 L563.3 694.6 L561.3 693.8 L559.3 695.7 L557.2 696.1 L555.2 697.2 L553.1 696.7 L551.1 697.4 L549.0 697.9 L547.0 699.4 L544.9 700.1 L542.9 702.0 L540.9 702.3 L538.8 702.9 L536.8 703.9 L534.7 706.2 L532.7 707.9 L530.6 710.4 L528.6 713.7 L526.5 715.9 L524.5 717.1 L522.4 719.2 L520.4 722.1 L518.4 724.7 L516.3 727.2 L514.3 729.5 L512.2 732.2 L510.2 733.3 L508.1 735.8 L506.1 737.6 L504.0 740.7 L502.0 741.6 L500.0 746.0 L497.9 747.4 L495.9 748.5 L493.8 749.5 L491.8 753.0 L489.7 754.4 L487.7 757.0 L485.6 759.2 L483.6 761.6 L481.5 762.9 L479.5 764.6 L477.5 768.5 L475.4 770.7 L473.4 772.4 L471.3 773.5 L469.3 776.2 L467.2 776.7 L465.2 777.9 L463.1 780.2 L461.1 781.7 L459.1 783.2 L457.0 784.6 L455.0 785.8 L452.9 786.0 L450.9 787.0 L448.8 787.9 L446.8 789.5 L444.7 791.1 L442.7 791.5 L440.6 790.4 L438.6 791.3 L436.6 791.7 L434.5 792.2 L432.5 790.6 L430.4 790.0 L428.4 788.6 L426.3 787.4 L424.3 786.4 L422.2 785.0 L420.2 783.6 L418.2 782.6 L416.1 781.2 L414.1 779.8 L412.0 778.2 L410.0 776.4 L407.9 774.0 L405.9 772.8 L403.8 770.5 L401.8 768.6 L399.7 767.9 L397.7 766.1 L395.7 763.1 L393.6 762.4 L391.6 759.5 L389.5 759.0 L387.5 757.3 L385.4 756.0 L383.4 753.5 L381.3 751.4 L379.3 749.6 L377.3 747.9 L375.2 745.6 L373.2 744.0 L371.1 742.2 L369.1 740.4 L367.0 737.3 L365.0 735.8 L362.9 734.0 L360.9 731.5 L358.8 730.9 L356.8 729.4 L354.8 727.6 L352.7 725.3 L350.7 723.7 L348.6 722.7 L346.6 721.3 L344.5 720.7 L342.5 719.7 L340.4 719.0 L338.4 716.7 L336.4 715.7 L334.3 714.6 L332.3 713.3 L330.2 713.1 L328.2 712.3 L326.1 709.9 L324.1 708.2 L322.0 709.0 L320.0 708.0 L317.9 706.7 L315.9 705.2 L313.9 705.0 L311.8 703.7 L309.8 701.0 L307.7 701.2 L305.7 699.6 L303.6 698.6 L301.6 697.6 L299.5 696.5 L297.5 695.5 L295.5 692.5 L293.4 692.3 L291.4 692.1 L289.3 690.8 L287.3 688.4 L285.2 688.4 L283.2 688.3 L281.1 686.5 L279.1 685.0 L277.0 685.6 L275.0 684.9 Z" fill="#f08080" fill-opacity="0.2" stroke="none"/>
<path d="M275.0 695.1 L277.0 696.0 L279.1 697.6 L281.1 698.4 L283.2 698.8 L285.2 699.5 L287.3 701.0 L289.3 702.6 L291.4 704.1 L293.4 705.6 L295.5 706.5 L297.5 706.7 L299.5 707.5 L301.6 708.9 L303.6 710.5 L305.7 712.0 L307.7 713.5 L309.8 714.3 L311.8 714.5 L313.9 715.2 L315.9 716.5 L317.9 718.0 L320.0 719.4 L322.0 720.8 L324.1 721.5 L326.1 721.7 L328.2 722.3 L330.2 723.7 L332.3 725.2 L334.3 726.7 L336.4 728.2 L338.4 729.1 L340.4 729.4 L342.5 730.1 L344.5 731.6 L346.6 733.1 L348.6 734.7 L350.7 736.4 L352.7 737.6 L354.8 738.4 L356.8 739.7 L358.8 741.7 L360.9 743.8 L362.9 746.0 L365.0 748.2 L367.0 749.8 L369.1 750.8 L371.1 752.4 L373.2 754.7 L375.2 757.2 L377.3 759.6 L379.3 762.0 L381.3 763.6 L383.4 764.7 L385.4 766.1 L387.5 768.3 L389.5 770.5 L391.6 772.6 L393.6 774.6 L395.7 776.0 L397.7 776.8 L399.7 778.1 L401.8 780.2 L403.8 782.4 L405.9 784.7 L407.9 786.9 L410.0 788.3 L412.0 789.1 L414.1 790.3 L416.1 792.2 L418.2 794.1 L420.2 795.8 L422.2 797.4 L424.3 798.1 L426.3 798.3 L428.4 799.0 L430.4 800.4 L432.5 802.1 L434.5 803.8 L436.6 805.4 L438.6 805.5 L440.6 804.1 L442.7 802.3 L444.7 801.5 L446.8 800.9 L448.8 800.5 L450.9 800.2 L452.9 799.2 L455.0 797.4 L457.0 795.8 L459.1 794.7 L461.1 793.7 L463.1 792.7 L465.2 791.5 L467.2 789.4 L469.3 786.8 L471.3 784.6 L473.4 783.0 L475.4 781.4 L477.5 779.7 L479.5 777.8 L481.5 775.3 L483.6 772.2 L485.6 769.7 L487.7 767.9 L489.7 766.3 L491.8 764.6 L493.8 762.9 L495.9 760.6 L497.9 757.7 L500.0 755.3 L502.0 753.6 L504.0 751.9 L506.1 750.2 L508.1 748.5 L510.2 746.0 L512.2 743.0 L514.3 740.4 L516.3 738.3 L518.4 736.0 L520.4 733.8 L522.4 731.6 L524.5 729.0 L526.5 725.8 L528.6 723.2 L530.6 721.3 L532.7 719.5 L534.7 718.0 L536.8 716.7 L538.8 715.2 L540.9 713.1 L542.9 711.5 L544.9 710.8 L547.0 710.3 L549.0 710.0 L551.1 709.6 L553.1 708.6 L555.2 707.2 L557.2 706.3 L559.3 706.2 L561.3 706.2 L563.3 706.2 L565.4 706.2 L567.4 705.5 L569.5 704.2 L571.5 703.4 L573.6 703.4 L575.6 703.6 L577.7 703.9 L579.7 704.2 L581.8 704.0 L583.8 703.2 L585.8 702.9 L587.9 703.5 L589.9 704.2 L592.0 704.9 L594.0 705.6 L596.1 705.8 L598.1 705.4 L600.2 705.5 L602.2 706.4 L604.2 707.3 L606.3 708.4 L608.3 709.4 L610.4 709.8 L612.4 709.7 L614.5 710.1 L616.5 711.2 L618.6 712.4 L620.6 713.6 L622.6 714.8 L624.7 715.3 L626.7 715.3 L628.8 715.8 L630.8 717.0 L632.9 718.4 L634.9 719.8 L637.0 721.2 L639.0 722.0 L641.1 722.5 L643.1 723.5 L645.1 725.3 L647.2 727.2 L649.2 729.1 L651.3 731.0 L653.3 732.2 L655.4 732.8 L657.4 733.9 L659.5 735.7 L661.5 737.6 L663.5 739.5 L665.6 741.4 L667.6 742.7 L669.7 743.4 L671.7 744.5 L673.8 746.3 L675.8 748.2 L677.9 750.1 L679.9 752.0 L682.0 753.2 L684.0 753.8 L686.0 754.9 L688.1 756.7 L690.1 758.7 L692.2 760.7 L694.2 762.8 L696.3 764.3 L698.3 765.2 L700.4 766.5 L702.4 768.5 L704.4 770.5 L706.5 772.6 L708.5 774.5 L710.6 775.8 L712.6 776.3 L714.7 777.3 L716.7 778.9 L718.8 780.7 L720.8 782.4 L722.9 784.1 L724.9 785.1 L726.9 785.6 L729.0 786.6 L731.0 788.5 L733.1 790.4 L735.1 792.5 L737.2 794.5 L739.2 795.8 L741.3 796.4 L743.3 797.4 L745.3 799.1 L747.4 800.8 L749.4 802.5 L751.5 804.1 L753.5 805.1 L755.6 805.5 L757.6 806.3 L759.7 807.8 L761.7 809.4 L763.8 810.9 L765.8 812.4 L767.8 813.3 L769.9 813.6 L771.9 814.4 L774.0 815.9 L776.0 817.5 L778.1 819.0 L780.1 820.4 L782.2 820.8 L784.2 820.5 L786.2 820.6 L788.3 821.4 L790.3 822.2 L792.4 823.0 L794.4 823.6 L796.5 823.5 L798.5 822.9 L800.6 822.8 L802.6 823.3 L804.7 823.8 L806.7 824.4 L808.7 824.9 L810.8 824.8 L812.8 824.1 L814.9 823.9 L816.9 824.3 L819.0 824.9 L821.0 825.5 L823.1 826.0 L825.1 826.0 L827.1 825.3 L829.2 825.2 L831.2 825.7 L833.3 826.3 L835.3 826.9 L837.4 827.5 L839.4 827.4 L841.5 826.8 L843.5 826.7 L845.6 827.3 L847.6 827.9 L849.6 828.6 L851.7 829.2 L853.7 829.2 L855.8 828.6 L857.8 828.5 L859.9 829.0 L861.9 829.6 L864.0 830.2 L866.0 830.7 L868.0 830.6 L870.1 829.9 L872.1 829.7 L874.2 830.1 L876.2 830.7 L878.3 831.2 L880.3 831.8 L882.4 831.6 L884.4 830.9 L886.5 830.7 L888.5 831.2 L890.5 831.8 L892.6 832.3 L894.6 832.8 L896.7 832.7 L898.7 832.0 L900.8 831.8 L902.8 832.2 L904.9 832.6 L906.9 833.1 L908.9 833.5 L911.0 833.3 L913.0 832.6 L915.1 832.3 L917.1 832.8 L919.2 833.4 L921.2 834.0 L923.3 834.6 L925.3 834.5 L927.4 833.9 L929.4 833.7 L931.4 834.2 L933.5 834.9 L935.5 835.5 L937.6 836.1 L939.6 836.1 L941.7 835.5 L943.7 835.3 L945.8 835.9 L947.8 836.6 L949.8 837.2 L951.9 837.8 L953.9 837.7 L956.0 837.1 L958.0 837.0 L960.1 837.6 L962.1 838.2 L964.2 838.7 L966.2 839.3 L968.3 839.1 L970.3 838.5 L972.3 838.3 L974.4 838.8 L976.4 839.4 L978.5 839.9 L980.5 840.5 L982.6 840.3 L984.6 839.7 L986.7 839.5 L988.7 840.0 L990.7 840.5 L992.8 841.1 L994.8 841.6 L996.9 841.5 L998.9 840.9 L1001.0 840.7 L1003.0 841.2 L1005.1 841.7 L1007.1 842.3 L1009.2 842.8 L1011.2 842.7 L1013.2 842.1 L1015.3 841.9 L1017.3 842.4 L1019.4 842.9 L1021.4 843.5 L1023.5 844.1 L1025.5 844.0 L1027.6 843.3 L1029.6 843.1 L1031.6 843.6 L1033.7 844.2 L1035.7 844.8 L1037.8 845.4 L1039.8 845.3 L1041.9 844.6 L1043.9 844.4 L1046.0 845.0 L1048.0 845.5 L1050.1 846.1 L1052.1 846.7 L1054.1 846.6 L1056.2 845.9 L1058.2 845.8 L1060.3 846.3 L1062.3 846.9 L1064.4 847.4 L1066.4 848.0 L1068.5 847.9 L1070.5 847.2 L1072.5 847.1 L1074.6 847.6 L1076.6 848.2 L1078.7 848.8 L1080.7 849.3 L1082.8 849.2 L1084.8 848.5 L1086.9 848.3 L1088.9 848.8 L1091.0 849.4 L1093.0 849.9 L1095.0 850.5 L1097.1 850.3 L1099.1 849.7 L1101.2 849.5 L1103.2 850.0 L1105.3 850.5 L1107.3 851.1 L1109.4 851.6 L1111.4 851.5 L1113.4 850.8 L1115.5 850.6 L1117.5 851.1 L1119.6 851.7 L1121.6 852.3 L1123.7 852.8 L1125.7 852.7 L1127.8 852.0 L1129.8 851.8 L1131.9 852.3 L1133.9 852.9 L1135.9 853.4 L1138.0 854.0 L1140.0 853.8 L1142.1 853.2 L1144.1 853.0 L1146.2 853.5 L1148.2 854.0 L1150.3 854.6 L1152.3 855.1 L1154.3 855.0 L1156.4 854.3 L1158.4 854.1 L1160.5 854.6 L1162.5 855.2 L1164.6 855.7 L1166.6 856.2 L1168.7 856.1 L1170.7 855.4 L1172.8 855.2 L1174.8 855.7 L1176.8 856.2 L1178.9 856.8 L1180.9 857.3 L1183.0 857.1 L1185.0 856.5 L1187.1 856.2 L1189.1 856.7 L1191.2 857.3 L1193.2 857.8 L1195.2 858.3 L1197.3 858.2 L1199.3 857.5 L1201.4 857.3 L1203.4 857.8 L1205.5 858.3 L1207.5 858.9 L1209.6 859.4 L1211.6 859.2 L1213.7 858.6 L1215.7 858.3 L1217.7 858.8 L1219.8 859.4 L1221.8 859.9 L1223.9 860.4 L1225.9 860.2 L1228.0 859.5 L1230.0 859.2 L1232.1 859.7 L1234.1 860.2 L1236.1 860.7 L1238.2 861.2 L1240.2 861.1 L1242.3 860.4 L1244.3 860.1 L1246.4 860.6 L1248.4 861.1 L1250.5 861.6 L1252.5 862.1 L1254.6 861.9 L1256.6 861.2 L1258.6 861.0 L1260.7 861.4 L1262.7 861.9 L1264.8 862.5 L1266.8 863.0 L1268.9 862.8 L1270.9 862.1 L1273.0 861.8 L1275.0 862.3 L1277.1 862.8 L1279.1 863.3 L1281.1 863.8 L1283.2 863.7 L1285.2 863.0 L1287.3 862.8 L1289.3 863.3 L1291.4 863.9 L1293.4 864.5 L1295.5 865.0 L1297.5 864.9 L1299.5 864.2 L1301.6 864.0 L1303.6 864.5 L1305.7 865.1 L1307.7 865.6 L1309.8 866.2 L1311.8 866.1 L1313.9 865.4 L1315.9 865.2 L1318.0 865.7 L1320.0 866.2 L1322.0 866.8 L1324.1 867.3 L1326.1 867.2 L1328.2 866.6 L1330.2 866.3 L1332.3 866.8 L1334.3 867.4 L1336.4 868.0 L1338.4 868.5 L1340.4 868.4 L1342.5 867.7 L1344.5 867.5 L1346.6 868.0 L1348.6 868.6 L1350.7 869.1 L1352.7 869.7 L1354.8 869.6 L1356.8 868.9 L1358.9 868.7 L1360.9 869.2 L1362.9 869.8 L1365.0 870.3 L1367.0 870.8 L1369.1 870.7 L1371.1 870.1 L1373.2 869.9 L1375.2 870.4 L1377.3 870.9 L1379.3 871.5 L1381.3 872.0 L1383.4 871.9 L1385.4 871.2 L1387.5 871.0 L1389.5 871.5 L1391.6 872.1 L1393.6 872.7 L1395.7 873.2 L1397.7 873.1 L1399.8 872.4 L1401.8 872.2 L1403.8 872.6 L1405.9 873.1 L1407.9 873.7 L1410.0 874.1 L1412.0 874.0 L1414.1 873.3 L1416.1 873.0 L1418.2 873.5 L1420.2 874.0 L1422.2 874.5 L1424.3 875.0 L1426.3 874.8 L1428.4 874.1 L1430.4 873.9 L1432.5 874.3 L1434.5 874.9 L1436.6 875.4 L1438.6 875.9 L1440.7 875.7 L1442.7 875.0 L1444.7 874.7 L1446.8 875.2 L1448.8 875.7 L1450.9 876.2 L1452.9 876.7 L1455.0 876.6 L1457.0 875.9 L1459.1 875.6 L1461.1 876.1 L1463.1 876.6 L1465.2 877.1 L1467.2 877.6 L1469.3 877.4 L1471.3 876.7 L1473.4 876.5 L1475.4 876.9 L1477.5 877.4 L1479.5 878.0 L1481.6 878.5 L1483.6 878.3 L1485.6 877.6 L1487.7 877.3 L1489.7 877.8 L1491.8 878.3 L1493.8 878.8 L1495.9 879.3 L1497.9 879.2 L1500.0 878.4 L1502.0 878.2 L1504.0 878.6 L1506.1 879.2 L1508.1 879.7 L1510.2 880.2 L1512.2 880.0 L1514.3 879.3 L1516.3 879.1 L1518.4 879.5 L1520.4 880.0 L1522.5 880.6 L1524.5 881.0 L1526.5 880.9 L1528.6 880.2 L1530.6 879.9 L1532.7 880.4 L1534.7 880.9 L1536.8 881.4 L1538.8 881.9 L1540.9 881.8 L1542.9 881.1 L1544.9 880.8 L1547.0 881.3 L1549.0 881.8 L1551.1 882.4 L1553.1 882.9 L1555.2 882.7 L1557.2 882.0 L1559.3 881.8 L1561.3 882.2 L1563.4 882.8 L1565.4 883.3 L1567.4 883.8 L1569.5 883.6 L1571.5 882.9 L1573.6 882.7 L1575.6 883.1 L1577.7 883.7 L1579.7 884.2 L1581.8 884.7 L1583.8 884.6 L1585.8 883.9 L1587.9 883.6 L1589.9 884.1 L1592.0 884.6 L1594.0 885.1 L1596.1 885.6 L1598.1 885.5 L1600.2 884.8 L1602.2 884.5 L1604.3 885.0 L1606.3 885.5 L1608.3 886.1 L1610.4 886.6 L1612.4 886.4 L1614.5 885.7 L1616.5 885.5 L1618.6 885.9 L1620.6 886.5 L1622.7 887.0 L1624.7 887.5 L1626.7 887.3 L1628.8 886.6 L1630.8 886.4 L1632.9 886.9 L1634.9 887.4 L1637.0 887.9 L1639.0 888.4 L1641.1 888.3 L1643.1 887.6 L1645.2 887.4 L1647.2 888.0 L1649.2 888.6 L1651.3 889.3 L1653.3 889.9 L1655.4 889.8 L1657.4 889.1" fill="none" stroke="#5674e9" stroke-width="7.3" stroke-linejoin="round" stroke-linecap="butt"/>
<circle cx="915" cy="832.6" r="10.9" fill="#ffb6c1" stroke="#dc0a2d" stroke-width="4.3"/>
<line x1="915" y1="833" x2="915" y2="822" stroke="#dc0a2d" stroke-width="3.6"/>
<text x="793.9" y="810.5" font-size="28.5" fill="#dc0a2d" text-anchor="start" font-weight="bold" textLength="241.6" lengthAdjust="spacingAndGlyphs" stroke="#dc0a2d" stroke-width="0.6">Peak: Sep 2023</text>
<circle cx="1656" cy="889.8" r="10.9" fill="#90ee90" stroke="#087f5b" stroke-width="4.3"/>
<line x1="1656" y1="889.8" x2="1656" y2="905" stroke="#087f5b" stroke-width="3.6"/>
<text x="1517" y="920.6" font-size="28.5" fill="#087f5b" text-anchor="start" font-weight="bold" textLength="271.5" lengthAdjust="spacingAndGlyphs" stroke="#087f5b" stroke-width="0.6">Trough: Aug 2024</text>
</g>
<text x="80" y="200.1" font-size="29" fill="#46515c" text-anchor="start" font-weight="normal" textLength="79" lengthAdjust="spacing">$0.30</text>
<text x="80" y="455.0" font-size="29" fill="#46515c" text-anchor="start" font-weight="normal" textLength="79" lengthAdjust="spacing">$0.20</text>
<text x="80" y="709.7" font-size="29" fill="#46515c" text-anchor="start" font-weight="normal" textLength="79" lengthAdjust="spacing">$0.10</text>
<text x="80" y="964.5" font-size="29" fill="#46515c" text-anchor="start" font-weight="normal" textLength="79" lengthAdjust="spacing">$0.00</text>
<text x="355.1" y="1028.1" font-size="29" fill="#46515c" text-anchor="start" font-weight="normal" textLength="116.4" lengthAdjust="spacing">2023-01</text>
<text x="725.2" y="1028.1" font-size="29" fill="#46515c" text-anchor="start" font-weight="normal" textLength="116.4" lengthAdjust="spacing">2023-07</text>
<text x="1101.9" y="1028.1" font-size="29" fill="#46515c" text-anchor="start" font-weight="normal" textLength="116.4" lengthAdjust="spacing">2024-01</text>
<text x="1474.2" y="1028.1" font-size="29" fill="#46515c" text-anchor="start" font-weight="normal" textLength="116.4" lengthAdjust="spacing">2024-07</text>
<text x="910.8" y="1064.8" font-size="34.5" fill="#444e59" text-anchor="start" font-weight="normal" textLength="81.3" lengthAdjust="spacing">Date</text>
<g transform="translate(66.3 652.1) rotate(-90)"><text x="0" y="0" font-size="34.5" fill="#444e59" text-anchor="start" font-weight="normal" textLength="188.8" lengthAdjust="spacing">Price (USD)</text></g>
<rect x="208" y="76" width="39" height="9.4" fill="#4361ee"/>
<text x="266.1" y="89.8" font-size="26" fill="#0a0a0a" text-anchor="start" font-weight="normal" textLength="106.3" lengthAdjust="spacing">Forecast</text>
<rect x="392.7" y="76" width="38.7" height="9.4" fill="#2b2d42"/>
<text x="450.4" y="89.8" font-size="26" fill="#0a0a0a" text-anchor="start" font-weight="normal" textLength="187" lengthAdjust="spacing">Historical Price</text>
<rect x="715" y="59" width="44" height="44" fill="#d3e9f1"/>
<text x="777" y="89.8" font-size="26" fill="#0a0a0a" text-anchor="start" font-weight="normal" textLength="203.4" lengthAdjust="spacing">60% Confidence</text>
<rect x="998" y="59" width="44" height="44" fill="#f7bfbf"/>
<text x="1057.8" y="89.8" font-size="26" fill="#0a0a0a" text-anchor="start" font-weight="normal" textLength="253.8" lengthAdjust="spacing">Potential Resistance</text>
</svg>
</body></html>
